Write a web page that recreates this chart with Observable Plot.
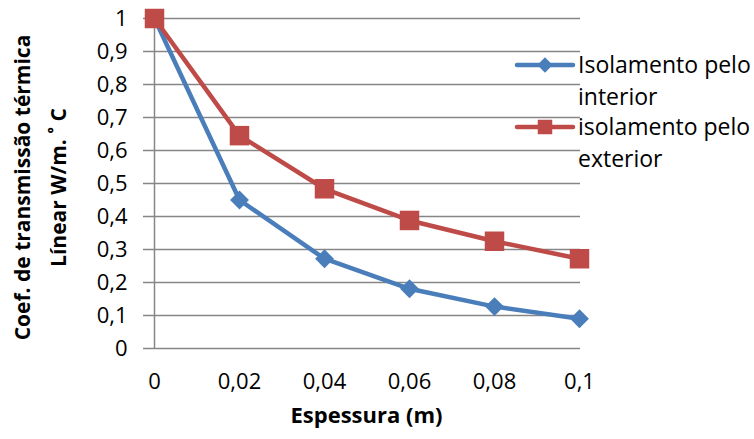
<!DOCTYPE html>
<html>
<head>
<meta charset="utf-8">
<script src="https://cdn.jsdelivr.net/npm/d3@7"></script>
<script src="https://cdn.jsdelivr.net/npm/@observablehq/plot@0.6"></script>
<style>
  html, body { margin: 0; padding: 0; background: #fff; }
  #chart { width: 754px; height: 439px; }
</style>
</head>
<body>
<div id="chart"></div>
<script>
// Espessura do isolamento (m)
const espessura = [0, 0.02, 0.04, 0.06, 0.08, 0.1];
// Coeficiente de transmissão térmica linear (W/m.°C)
const isolamentoInterior = [1, 0.45, 0.272, 0.181, 0.127, 0.09];
const isolamentoExterior = [1, 0.645, 0.484, 0.388, 0.325, 0.272];
const seriesNames = ["Isolamento pelo\ninterior", "isolamento pelo\nexterior"];
const seriesColors = ["#4A7EBB", "#BE4B48"];
const seriesSymbols = ["diamond2", "square"];
const yTicks = [0, 0.1, 0.2, 0.3, 0.4, 0.5, 0.6, 0.7, 0.8, 0.9, 1];
const xTitle = "Espessura (m)";
const yTitle = "Coef. de transmissão térmica\nLínear W/m. ˚ C";

const comma = d => String(+(+d).toFixed(2)).replace(".", ",");

const rows = [];
[isolamentoInterior, isolamentoExterior].forEach((vals, s) =>
  vals.forEach((v, i) => rows.push({x: espessura[i], y: v, s})));
const seriesRows = s => rows.filter(r => r.s === s);

const gridColor = "#868686";

// Legenda desenhada dentro do SVG do gráfico
function legend() {
  const g = d3.create("svg:g");
  const x0 = 517, x1 = 573, tx = 578;
  const ys = [65, 127];
  seriesNames.forEach((name, s) => {
    const y = ys[s];
    g.append("line").attr("x1", x0).attr("x2", x1).attr("y1", y).attr("y2", y)
      .attr("stroke", seriesColors[s]).attr("stroke-width", 4.5).attr("stroke-linecap", "round");
    const size = s === 0 ? 150 : 210;
    g.append("path")
      .attr("d", d3.symbol(s === 0 ? d3.symbolDiamond2 : d3.symbolSquare, size)())
      .attr("transform", `translate(${(x0 + x1) / 2},${y})`)
      .attr("fill", seriesColors[s]);
    const t = g.append("text").attr("x", tx).attr("y", y)
      .attr("text-anchor", "start")
      .attr("font-size", 23).attr("fill", "#000");
    name.split("\n").forEach((line, k) => {
      t.append("tspan").attr("x", tx).attr("dy", k === 0 ? "0.35em" : 32).text(line);
    });
  });
  return g.node();
}

const chart = Plot.plot({
  width: 754,
  height: 439,
  marginLeft: 152,
  marginRight: 174,
  marginTop: 18,
  marginBottom: 91,
  style: {fontFamily: "'Open Sans', sans-serif", fontSize: "22px", color: "#000", background: "#fff"},
  x: {type: "point", domain: espessura, padding: 0},
  y: {domain: [0, 1]},
  marks: [
    Plot.ruleY(yTicks, {stroke: gridColor, strokeWidth: 1.5}),
    Plot.ruleX([espessura[0]], {stroke: gridColor, strokeWidth: 1.5}),
    Plot.axisY({ticks: yTicks, tickSize: 9, tickPadding: 16, stroke: gridColor, strokeWidth: 1.5, fill: "#000", tickFormat: comma, label: null}),
    Plot.axisX({tickSize: 0, tickPadding: 25, fill: "#000", tickFormat: comma, label: null}),
    ...[0, 1].map(s => Plot.line(seriesRows(s), {x: "x", y: "y", stroke: seriesColors[s], strokeWidth: 4.5})),
    ...[0, 1].map(s => Plot.dot(seriesRows(s), {x: "x", y: "y", fill: seriesColors[s], symbol: seriesSymbols[s], r: s === 0 ? 8.5 : 11})),
    Plot.text([xTitle], {frameAnchor: "bottom", dy: 74, fontWeight: "bold", fontSize: 22, fill: "#000"}),
    Plot.text([yTitle], {frameAnchor: "left", textAnchor: "middle", dx: -116, dy: 4, rotate: -90, fontWeight: "bold", fontSize: 21, lineHeight: 1.7, fill: "#000"}),
    legend
  ]
});
document.getElementById("chart").appendChild(chart);
</script>
</body>
</html>
